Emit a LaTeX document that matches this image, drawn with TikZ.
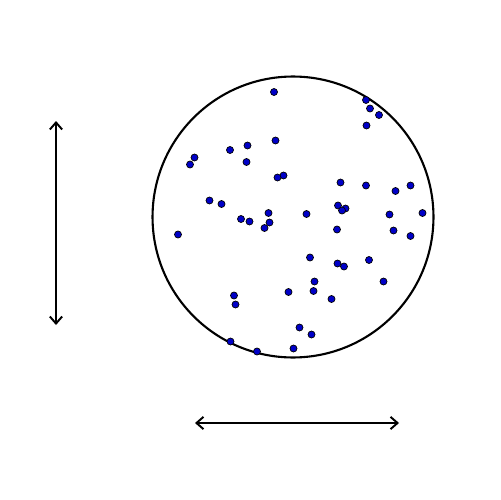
\documentclass[tikz,border=0pt]{standalone}
\usetikzlibrary{arrows.meta}
\definecolor{DotBlue}{RGB}{0,0,200}

\begin{document}
\begin{tikzpicture}[
        x=0.02cm, y=-0.02cm,
        rim/.style={circle, draw=black, line width=1.2pt, inner sep=0pt, minimum size=5.62cm},
        sample/.style={circle, draw=black, line width=0.4pt, fill=DotBlue, inner sep=0pt, minimum size=0.14cm},
        ruler/.style={{Straight Barb[length=4pt,width=7pt]}-{Straight Barb[length=4pt,width=7pt]}, line width=1.1pt}
    ]
        \useasboundingbox (0,0) rectangle (500,500);
        \node[rim] (disc) at (293,217) {};

        % sample points inside the disc
        \foreach \px/\py [count=\i] in {274/92, 366/100, 370/108.5, 379/115, 366.5/125.5,
                275.5/140.5, 247.5/145.5, 230/150, 246.5/162, 194.5/157.5, 190/164.5,
                283.5/175.5, 277.5/177.5, 209.5/200.5, 221.5/204, 268.5/213, 269.5/222.5,
                264.5/228, 241/219, 249.5/221.5, 178/234.5, 340.5/182.5, 366/185.5,
                395.5/191, 410.5/185.5, 338/205.5, 345.5/208.5, 342/210.5, 306.5/214,
                389.5/214.5, 422.5/213, 337/229.5, 393.5/230.5, 410.5/236, 310/257.5,
                337.5/263.5, 344/266.5, 369/260, 314.5/281.5, 383.5/281.5, 313.5/291,
                288.5/292, 331.5/299, 234/295.5, 235.5/304.5, 299.5/327.5, 311.5/334.5,
                230.5/341.5, 257/351.5, 293.5/348.5}
            \node[sample] (p\i) at (\px,\py) {};

        % dimension arrows
        \coordinate (vtop) at (56,121);
        \coordinate (vbot) at (56,325);
        \draw[ruler] (vtop) -- (vbot);
        \coordinate (hleft) at (195,423);
        \coordinate (hright) at (399,423);
        \draw[ruler] (hleft) -- (hright);
    \end{tikzpicture}
\end{document}
